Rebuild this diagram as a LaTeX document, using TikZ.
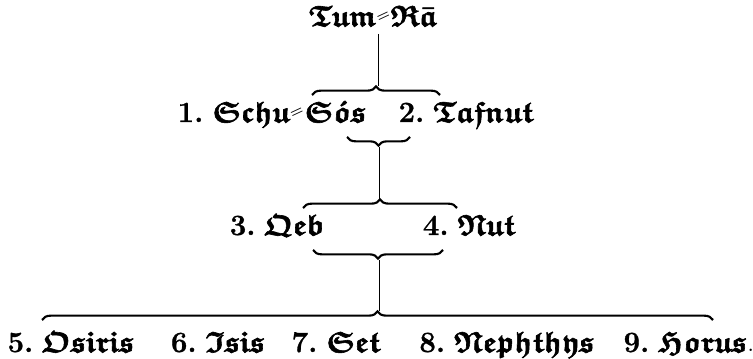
\documentclass[tikz,border=0pt]{standalone}
\usepackage{amsmath,amssymb,bm}
\usetikzlibrary{decorations.pathreplacing}
\tikzset{
  deity/.style={inner sep=0pt, anchor=base, font=\fontsize{22}{26}\selectfont},
  bracket/.style={decorate, decoration={brace, amplitude=6.5pt}, line width=1.6pt},
  stem/.style={line width=0.7pt},
}
% bold Fraktur lettering, inked a little heavier, and the little double hyphen
\newcommand{\inked}[2]{\special{pdf:literal direct 2 Tr #1 w}#2\special{pdf:literal direct 0 Tr}}
\newcommand{\fr}[1]{\inked{0.45}{$\bm{\mathfrak{#1}}$}}
\newcommand{\dhy}{\raisebox{0.3ex}{\rotatebox{25}{\scalebox{0.55}{$\bm{=}$}}}}
\newcommand{\nm}[2]{\inked{0.2}{\textbf{#1.}}~#2}
\begin{document}
\begin{tikzpicture}[x=0.75pt,y=-0.75pt]
  \useasboundingbox (0,0) rectangle (753,359);
  % generation 0
  \node[deity] (tum) at (373,26) {\fr{Tum}\dhy\fr{R\bar{a}}};
  \coordinate (t1) at (378,86);
  \draw[stem] (378,34) -- (t1);
  \draw[bracket] (312,95) -- (440,95);
  % generation 1
  \node[deity] (schu) at (272,122) {\nm{1}{\fr{Schu}\dhy\fr{S\acute{o}s}}};
  \node[deity] (tafnut) at (466,122) {\nm{2}{\fr{Tafnut}}};
  \draw[bracket] (410,137) -- (347,137);
  \coordinate (t2) at (379,147);
  \coordinate (t3) at (379,200);
  \draw[stem] (t2) -- (t3);
  \draw[bracket] (303,208) -- (457,208);
  % generation 2
  \node[deity] (qeb) at (277,235) {\nm{3}{\fr{Qeb}}};
  \node[deity] (nut) at (469,235) {\nm{4}{\fr{Nut}}};
  \draw[bracket] (443,250) -- (313,250);
  \coordinate (t4) at (379,260);
  \coordinate (t5) at (379,311);
  \draw[stem] (t4) -- (t5);
  \draw[bracket] (42,320) -- (713,320);
  % generation 3
  \node[deity] (osiris) at (71,352) {\nm{5}{\fr{Osiris}}};
  \node[deity] (isis) at (218,352) {\nm{6}{\fr{Isis}}};
  \node[deity] (set) at (336,352) {\nm{7}{\fr{Set}}};
  \node[deity] (nephthys) at (507,352) {\nm{8}{\fr{Nephthys}}};
  \node[deity] (horus) at (689,352) {\nm{9}{\fr{Horus}.}};
\end{tikzpicture}
\end{document}
